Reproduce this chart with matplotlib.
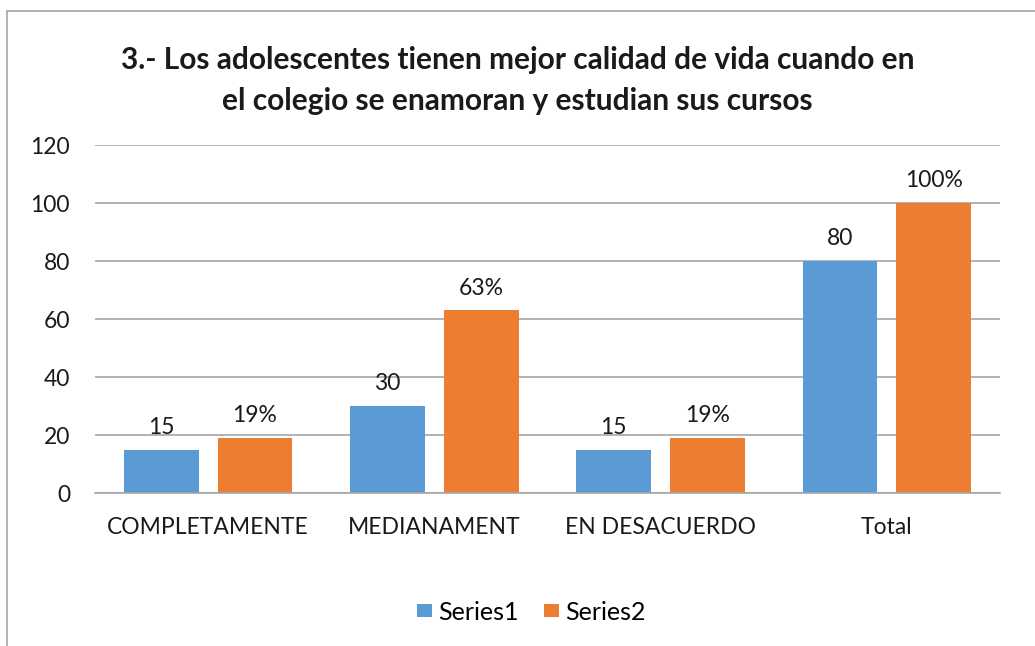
import matplotlib.pyplot as plt
from matplotlib.patches import Rectangle
import numpy as np

categories = ["COMPLETAMENTE", "MEDIANAMENT", "EN DESACUERDO", "Total"]
series1 = [15, 30, 15, 80]
series2 = [19, 63, 19, 100]
series2_labels = ["19%", "63%", "19%", "100%"]

W, H = 1035, 646
fig = plt.figure(figsize=(W / 100, H / 100), dpi=100)
plt.rcParams['font.family'] = ['Lato', 'DejaVu Sans']
FS = 16.5

# chart border (right and bottom edges fall outside the image)
fig.patches.append(Rectangle((7 / W, -0.1), 1.2, (H - 11) / H + 0.1,
                             transform=fig.transFigure, fill=False,
                             edgecolor='#A6A6A6', linewidth=1.2))

ax = fig.add_axes([95 / W, 1 - 493 / H, (1000 - 95) / W, (493 - 145) / H])
x = np.arange(len(categories))
bw = 0.33
b1 = ax.bar(x - 0.207, series1, bw, color='#5B9BD5', label='Series1')
b2 = ax.bar(x + 0.207, series2, bw, color='#ED7D31', label='Series2')

for rect, v in zip(b1, series1):
    ax.text(rect.get_x() + rect.get_width() / 2, v + 4, str(v),
            ha='center', va='bottom', fontsize=FS, color='#1a1a1a')
for rect, v, lab in zip(b2, series2, series2_labels):
    ax.text(rect.get_x() + rect.get_width() / 2, v + 4, lab,
            ha='center', va='bottom', fontsize=FS, color='#1a1a1a')

ax.set_xlim(-0.5, 3.5)
ax.set_ylim(0, 120)
ax.set_yticks(range(0, 121, 20))
ax.yaxis.grid(True, color='#A6A6A6', linewidth=1.2)
ax.set_axisbelow(True)
for s in ['top', 'right', 'left']:
    ax.spines[s].set_visible(False)
ax.spines['bottom'].set_color('#A6A6A6')
ax.spines['bottom'].set_linewidth(1.2)
ax.tick_params(axis='both', length=0, labelsize=FS, colors='#1a1a1a')
ax.tick_params(axis='y', pad=18)
ax.tick_params(axis='x', pad=17)
ax.set_xticks(x)
ax.set_xticklabels(categories)

fig.text(0.5, 1 - 60 / H, "3.- Los adolescentes tienen mejor calidad de vida cuando en",
         ha='center', va='center', fontsize=21.5, fontweight='bold', color='#1a1a1a')
fig.text(0.5, 1 - 101 / H, "el colegio se enamoran y estudian sus cursos",
         ha='center', va='center', fontsize=21.5, fontweight='bold', color='#1a1a1a')

fig.legend(handles=[b1, b2], loc='center', bbox_to_anchor=(531 / W, 1 - 612 / H),
           ncol=2, frameon=False, fontsize=18, handlelength=0.6,
           handleheight=0.45, columnspacing=1.0, handletextpad=0.25)

fig.savefig('out.png', dpi=100)
